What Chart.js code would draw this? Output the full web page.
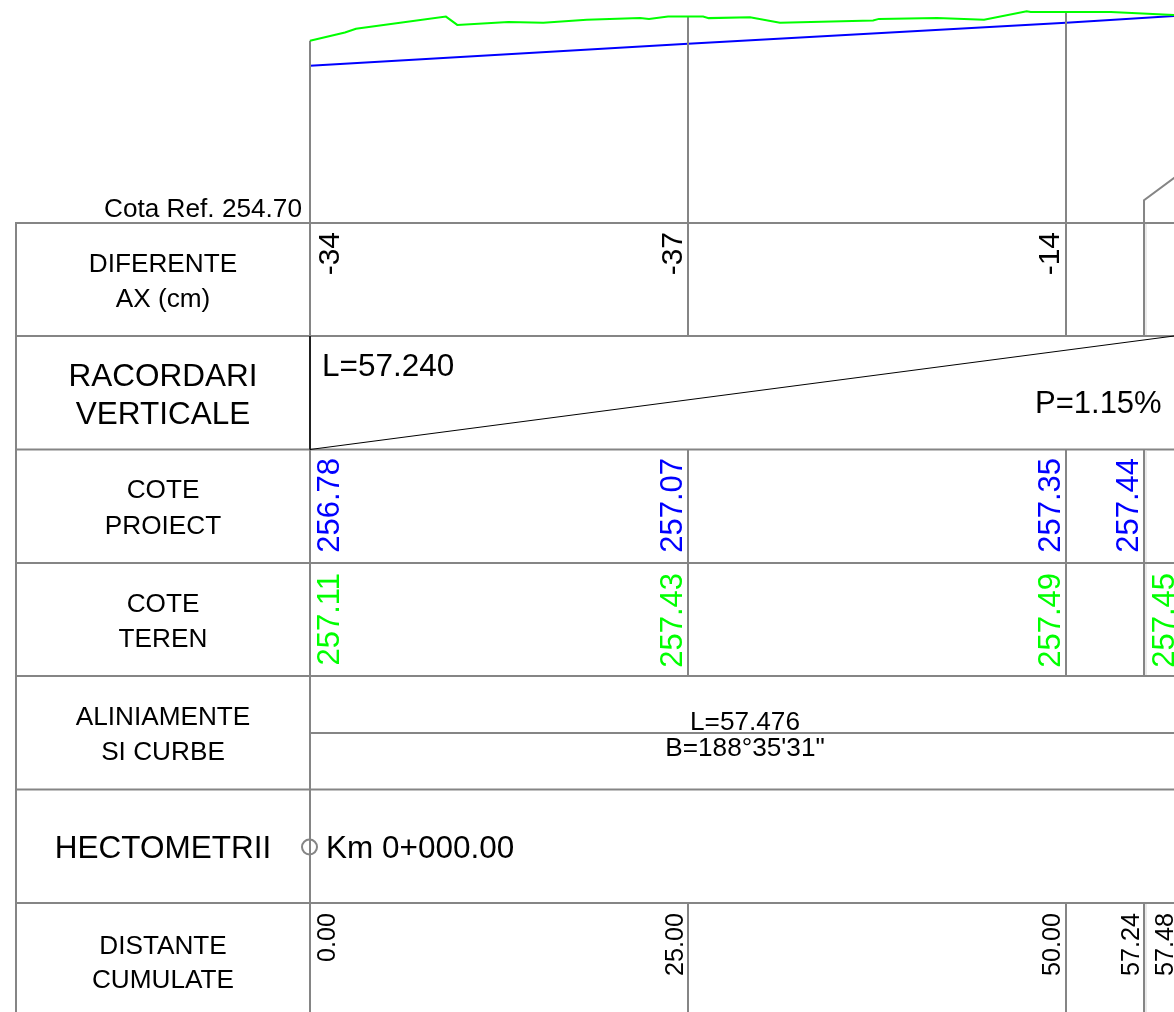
<!DOCTYPE html>
<html lang="ro">
<head>
<meta charset="utf-8">
<title>Profil longitudinal</title>
<script src="https://cdn.jsdelivr.net/npm/chart.js@4"></script>
<style>
    html, body { margin: 0; padding: 0; background: #fff; }
    canvas { display: block; }
</style>
</head>
<body>
<canvas id="profile" width="1174" height="1012"></canvas>
<script>
/* ===================================================== */
/* DATA                                                    */
/* ===================================================== */

const terrainDist = [0, 2.31, 3.04, 8.99, 9.74, 13.12, 15.43, 18.30, 21.83, 22.42, 23.68, 26.00,
    26.37, 29.10, 31.08, 37.24, 37.63, 41.47, 44.58, 47.40, 47.67, 52.96, 57.24];
const terrainElev = [257.11, 257.22, 257.27, 257.43, 257.32, 257.36, 257.35, 257.39, 257.41, 257.40, 257.43, 257.43,
    257.41, 257.42, 257.35, 257.38, 257.40, 257.41, 257.39, 257.50, 257.49, 257.49, 257.45];

const projectDist = [0, 25, 50, 57.24];
const projectElev = [256.78, 257.07, 257.35, 257.44];

const stationDist = [0, 25, 50];
const stationElev = [257.11, 257.43, 257.49];

const leaderDist = [55.16, 55.16, 57.24];
const leaderElev = [254.70, 255.00, 255.31];

const refElev = 254.70;

const diffLabels = ['-34', '-37', '-14'];
const projectLabels = ['256.78', '257.07', '257.35', '257.44'];
const terrainLabels = ['257.11', '257.43', '257.49', '257.45'];
const distLabels = ['0.00', '25.00', '50.00', '57.24', '57.48'];

const rowTitles = [
    ['DIFERENTE', 'AX (cm)'],
    ['RACORDARI', 'VERTICALE'],
    ['COTE', 'PROIECT'],
    ['COTE', 'TEREN'],
    ['ALINIAMENTE', 'SI CURBE'],
    ['HECTOMETRII'],
    ['DISTANTE', 'CUMULATE']
];

/* ===================================================== */
/* LAYOUT                                                  */
/* ===================================================== */

const GREY = '#858585';
const FONT = '"Liberation Sans", Arial, sans-serif';
const PX_PER_M_X = 15.12;
const PX_PER_M_Y = 75.6;
const ORIGIN_X = 310;
const REF_Y = 223;

const rowY = [223, 336, 449.5, 563, 676, 789.5, 903];
const titleBaselines = [
    [272, 307],
    [386, 424],
    [498, 534],
    [612, 647],
    [725, 760],
    [858],
    [954, 988]
];

/* ===================================================== */
/* HELPERS                                                 */
/* ===================================================== */

function toPoints(xs, ys) {
    return xs.map((x, i) => ({ x: x, y: ys[i] }));
}

function lineSet(xs, ys, color, width, order) {
    return {
        data: toPoints(xs, ys),
        borderColor: color,
        borderWidth: width,
        pointRadius: 0,
        tension: 0,
        order: order
    };
}

function hLine(ctx, x1, x2, y, color, width) {
    ctx.strokeStyle = color;
    ctx.lineWidth = width;
    ctx.beginPath();
    ctx.moveTo(x1, y);
    ctx.lineTo(x2, y);
    ctx.stroke();
}

function vLine(ctx, x, y1, y2, color, width) {
    ctx.strokeStyle = color;
    ctx.lineWidth = width;
    ctx.beginPath();
    ctx.moveTo(x, y1);
    ctx.lineTo(x, y2);
    ctx.stroke();
}

function text(ctx, str, x, y, size, align) {
    ctx.fillStyle = '#000';
    ctx.font = size + 'px ' + FONT;
    ctx.textAlign = align;
    ctx.textBaseline = 'alphabetic';
    ctx.fillText(str, x, y);
}

// rotated label, reads bottom to top, its end sits at yTop
function vText(ctx, str, x, yTop, size, color) {
    ctx.save();
    ctx.translate(x, yTop);
    ctx.rotate(-Math.PI / 2);
    ctx.fillStyle = color;
    ctx.font = size + 'px ' + FONT;
    ctx.textAlign = 'right';
    ctx.textBaseline = 'alphabetic';
    ctx.fillText(str, 0, 0);
    ctx.restore();
}

/* ===================================================== */
/* TABLE UNDER THE PROFILE                                 */
/* ===================================================== */

const tablePlugin = {
    id: 'profileTable',
    afterDatasetsDraw(chart) {
        const ctx = chart.ctx;
        const sx = chart.scales.x;
        const right = chart.chartArea.right;
        const bottom = chart.chartArea.bottom;

        const col0 = sx.getPixelForValue(stationDist[0]);
        const col1 = sx.getPixelForValue(stationDist[1]);
        const col2 = sx.getPixelForValue(stationDist[2]);
        const col3 = sx.getPixelForValue(leaderDist[0]);

        ctx.save();

        // frame
        rowY.forEach(y => hLine(ctx, 16, right, y, GREY, 2));
        vLine(ctx, 16, rowY[0] - 1, bottom, GREY, 2);
        vLine(ctx, col0, rowY[0], bottom, GREY, 2);
        hLine(ctx, col0, right, 733, GREY, 2);

        // station columns, only in the rows that have them
        [col1, col2, col3].forEach(x => {
            vLine(ctx, x, rowY[0], rowY[1], GREY, 2);
            vLine(ctx, x, rowY[2], rowY[4], GREY, 2);
            vLine(ctx, x, rowY[6], bottom, GREY, 2);
        });

        // pale double of the last column
        vLine(ctx, col3 + 2, rowY[0] + 1, rowY[1] - 1, '#e4e4e4', 1.5);
        vLine(ctx, col3 + 2, rowY[2] + 1, rowY[3] - 1, '#e4e4e4', 1.5);
        vLine(ctx, col3 + 2, rowY[3] + 1, rowY[4] - 1, '#e4e4e4', 1.5);
        vLine(ctx, col3 + 2, rowY[6] + 1, bottom, '#e4e4e4', 1.5);

        // vertical alignment row
        vLine(ctx, col0, rowY[1], rowY[2], '#000', 1.5);
        ctx.strokeStyle = '#000';
        ctx.lineWidth = 1;
        ctx.beginPath();
        ctx.moveTo(col0, rowY[2]);
        ctx.lineTo(right, rowY[1]);
        ctx.stroke();

        // row titles
        rowTitles.forEach((lines, r) => {
            const big = r === 1 || r === 5;
            lines.forEach((line, i) => {
                text(ctx, line, 163, titleBaselines[r][i], big ? 31.5 : 26.2, 'center');
            });
        });

        text(ctx, 'Cota Ref. ' + refElev.toFixed(2), 302, 217, 26.2, 'right');

        // rotated values
        const diffX = [col0 + 29, col1 - 6, col2 - 7];
        diffLabels.forEach((s, i) => vText(ctx, s, diffX[i], 232, 30, '#000'));

        const projX = [col0 + 29, col1 - 6, col2 - 6, col3 - 6];
        projectLabels.forEach((s, i) => vText(ctx, s, projX[i], 458, 31, '#0000ff'));

        const terX = [col0 + 29, col1 - 6, col2 - 6, col3 + 30];
        terrainLabels.forEach((s, i) => vText(ctx, s, terX[i], 573, 31, '#00ff00'));

        const distX = [col0 + 25, col1 - 5, col2 - 6, col3 - 5, col3 + 29];
        distLabels.forEach((s, i) => vText(ctx, s, distX[i], 913, 25.2, '#000'));

        // texts inside the rows
        text(ctx, 'L=57.240', 322, 376, 31.5, 'left');
        text(ctx, 'P=1.15%', 1035, 413, 31, 'left');
        text(ctx, 'L=57.476', 745, 730, 26.2, 'center');
        text(ctx, 'B=188°35\'31"', 745, 756, 26.2, 'center');
        text(ctx, 'Km 0+000.00', 326, 858, 31.5, 'left');

        // kilometre mark
        ctx.strokeStyle = GREY;
        ctx.lineWidth = 2;
        ctx.beginPath();
        ctx.arc(col0 - 0.5, 847, 7.5, 0, Math.PI * 2);
        ctx.stroke();

        ctx.restore();
    }
};

/* ===================================================== */
/* CHART                                                   */
/* ===================================================== */

function buildDatasets() {
    const sets = [
        lineSet(terrainDist, terrainElev, '#00ff00', 2, 1),
        lineSet(projectDist, projectElev, '#0000ff', 2, 3)
    ];

    stationDist.forEach((d, i) => {
        sets.push(lineSet([d, d], [refElev, stationElev[i]], GREY, 2, 2));
    });
    sets.push(lineSet(leaderDist, leaderElev, GREY, 2, 2));

    return sets;
}

new Chart(document.getElementById('profile').getContext('2d'), {
    type: 'line',
    data: { datasets: buildDatasets() },
    options: {
        responsive: false,
        animation: false,
        parsing: true,
        layout: { padding: 0 },
        plugins: {
            legend: { display: false },
            tooltip: { enabled: false }
        },
        scales: {
            x: {
                type: 'linear',
                display: false,
                min: (0 - ORIGIN_X) / PX_PER_M_X,
                max: (1174 - ORIGIN_X) / PX_PER_M_X
            },
            y: {
                type: 'linear',
                display: false,
                min: refElev - (1012 - REF_Y) / PX_PER_M_Y,
                max: refElev + REF_Y / PX_PER_M_Y
            }
        }
    },
    plugins: [tablePlugin]
});
</script>
</body>
</html>
